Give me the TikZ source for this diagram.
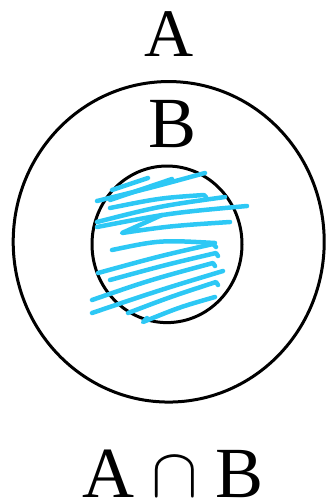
\documentclass[tikz,border=0pt]{standalone}
\usepackage{fontspec}
\setmainfont{Liberation Serif}
\usetikzlibrary{shapes.geometric}
\definecolor{scribblue}{RGB}{45,200,245}
\tikzset{
  setline/.style={draw=black, line width=3pt, ellipse, inner sep=0pt},
  scribble/.style={draw=scribblue, line width=4.5pt, line cap=round, line join=round},
  lbl/.style={anchor=base, inner sep=0pt, text=black}
}
\begin{document}
\begin{tikzpicture}[x=1pt,y=-1pt]
\useasboundingbox (0,0) rectangle (327,501);
% sets
\node[setline, minimum width=311pt, minimum height=320.5pt] (outer) at (168.7,241.8) {};
\node[setline, minimum width=150pt, minimum height=156.6pt] (inner) at (167,244.3) {};
% shading scribble
\draw[scribble] (112,190) -- (148,178);
\draw[scribble] (97,201) .. controls (150,188) .. (205,173);
\draw[scribble] (110,200) -- (172,179);
\draw[scribble] (110,208) .. controls (160,198) .. (204,195) -- (206,197);
\draw[scribble] (97,222) .. controls (160,206) .. (225,197);
\draw[scribble] (97,227) .. controls (170,213) .. (247,206);
\draw[scribble] (162,215) -- (122,233) .. controls (170,226) .. (230,222);
\draw[scribble] (112,250) .. controls (160,240) .. (215,243);
\draw[scribble] (98,273) .. controls (160,256) .. (213,244) -- (216,247);
\draw[scribble] (110,280) .. controls (165,265) .. (216,253) -- (218,256);
\draw[scribble] (92,300) .. controls (150,280) .. (213,263) -- (215,266);
\draw[scribble] (92,313) .. controls (160,290) .. (223,271);
\draw[scribble] (128,313) .. controls (170,297) .. (216,282) -- (218,285);
\draw[scribble] (147,318) -- (143,322) .. controls (180,307) .. (215,297);
% labels
\node[lbl, font=\fontsize{68}{72}\selectfont] (la) at (169,56) {A};
\node[lbl, font=\fontsize{72}{76}\selectfont] (lb) at (173,147) {B};
\node[lbl, font=\fontsize{72}{76}\selectfont] (ba) at (108,497) {A};
\node[lbl, scale=7.0, font=\fontsize{10}{12}\selectfont] (bcap) at (174.5,496) {$\cap$};
\node[lbl, font=\fontsize{72}{76}\selectfont] (bb) at (239.5,497) {B};
\end{tikzpicture}
\end{document}
